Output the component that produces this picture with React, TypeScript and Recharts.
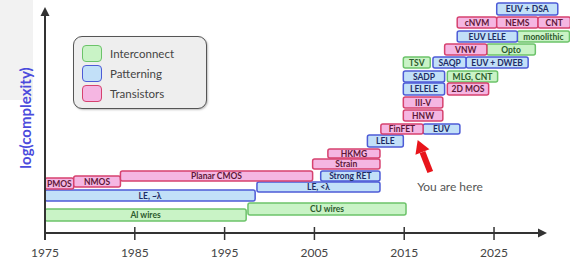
import {
  ComposedChart,
  XAxis,
  YAxis,
  ReferenceArea,
  ReferenceLine,
  ReferenceDot,
  Legend,
} from "recharts";

const yearTicks = [1975, 1985, 1995, 2005, 2015, 2025];

const categories = ["Interconnect", "Patterning", "Transistors"];

type Box = { name: string; from: number; to: number; lo: number; hi: number };

// years on x, complexity level on y
const interconnect: Box[] = [
  { name: "Al wires", from: 1975, to: 1997.4, lo: 1.2, hi: 2.4 },
  { name: "CU wires", from: 1997.6, to: 2015.2, lo: 1.8, hi: 3.0 },
  { name: "TSV", from: 2014.9, to: 2017.9, lo: 16.5, hi: 17.6 },
  { name: "MLG, CNT", from: 2019.8, to: 2025.4, lo: 15.1, hi: 16.2 },
  { name: "Opto", from: 2024.2, to: 2029.6, lo: 17.8, hi: 18.9 },
  { name: "monolithic", from: 2027.6, to: 2033.4, lo: 19.1, hi: 20.2 },
];

const patterning: Box[] = [
  { name: "LE, ~λ", from: 1975, to: 1998.4, lo: 3.2, hi: 4.3 },
  { name: "LE, <λ", from: 1998.6, to: 2012.3, lo: 4.1, hi: 5.1 },
  { name: "Strong RET", from: 2005.7, to: 2012.3, lo: 5.2, hi: 6.2 },
  { name: "LELE", from: 2010.9, to: 2014.9, lo: 8.6, hi: 9.8 },
  { name: "EUV", from: 2017.1, to: 2021.2, lo: 9.9, hi: 10.9 },
  { name: "LELELE", from: 2014.9, to: 2019.5, lo: 13.8, hi: 15.0 },
  { name: "SADP", from: 2014.9, to: 2019.5, lo: 15.1, hi: 16.2 },
  { name: "SAQP", from: 2018.2, to: 2021.9, lo: 16.5, hi: 17.6 },
  { name: "EUV + DWEB", from: 2021.9, to: 2028.8, lo: 16.5, hi: 17.6 },
  { name: "EUV LELE", from: 2020.9, to: 2027.6, lo: 19.1, hi: 20.2 },
  { name: "EUV + DSA", from: 2025.3, to: 2032.1, lo: 21.8, hi: 23.0 },
];

const transistors: Box[] = [
  { name: "PMOS", from: 1975, to: 1978.2, lo: 4.4, hi: 5.5 },
  { name: "NMOS", from: 1978.2, to: 1983.4, lo: 4.6, hi: 5.7 },
  { name: "Planar CMOS", from: 1983.4, to: 2004.8, lo: 5.2, hi: 6.2 },
  { name: "Strain", from: 2004.8, to: 2012.3, lo: 6.4, hi: 7.4 },
  { name: "HKMG", from: 2006.5, to: 2012.3, lo: 7.5, hi: 8.4 },
  { name: "FinFET", from: 2012.4, to: 2017.1, lo: 9.9, hi: 10.9 },
  { name: "HNW", from: 2014.9, to: 2019.3, lo: 11.2, hi: 12.3 },
  { name: "III-V", from: 2014.9, to: 2019.3, lo: 12.5, hi: 13.6 },
  { name: "2D MOS", from: 2019.8, to: 2024.4, lo: 13.8, hi: 15.0 },
  { name: "VNW", from: 2019.5, to: 2024.2, lo: 17.8, hi: 18.9 },
  { name: "cNVM", from: 2020.9, to: 2025.3, lo: 20.5, hi: 21.6 },
  { name: "NEMS", from: 2025.3, to: 2029.9, lo: 20.5, hi: 21.6 },
  { name: "CNT", from: 2029.9, to: 2033.5, lo: 20.5, hi: 21.6 },
];

const palette: Record<string, { fill: string; stroke: string; text: string }> = {
  Interconnect: { fill: "#c9f3c6", stroke: "#6cc36a", text: "#2c5a2c" },
  Patterning: { fill: "#c2e0f8", stroke: "#4d5bd6", text: "#1d2c66" },
  Transistors: { fill: "#f5b6e2", stroke: "#d6426f", text: "#5e1838" },
};

const font = "Lato, 'Open Sans', sans-serif";

function arrowShape(headLen: number, headW: number, width: number, color: string) {
  return (p: any) => {
    const { x1, y1, x2, y2 } = p;
    const dx = x2 - x1;
    const dy = y2 - y1;
    const len = Math.sqrt(dx * dx + dy * dy) || 1;
    const ux = dx / len;
    const uy = dy / len;
    const bx = x2 - ux * headLen;
    const by = y2 - uy * headLen;
    const nx = -uy;
    const ny = ux;
    return (
      <g>
        <line x1={x1} y1={y1} x2={bx} y2={by} stroke={color} strokeWidth={width} />
        <polygon
          points={`${x2},${y2} ${bx + (nx * headW) / 2},${by + (ny * headW) / 2} ${bx - (nx * headW) / 2},${by - (ny * headW) / 2}`}
          fill={color}
        />
      </g>
    );
  };
}

function renderBoxes(list: Box[], cat: string) {
  const c = palette[cat];
  return list.map((b) => (
    <ReferenceArea
      key={cat + b.name}
      x1={b.from}
      x2={b.to}
      y1={b.lo}
      y2={b.hi}
      fill={c.fill}
      fillOpacity={1}
      stroke={c.stroke}
      strokeWidth={1.5}
      radius={2}
      ifOverflow="visible"
      label={{
        value: b.name,
        position: "center",
        fill: c.text,
        fontSize: 8.5,
        fontWeight: 700,
        fontFamily: font,
      }}
    />
  ));
}

function LegendBox() {
  return (
    <div
      style={{
        width: 134,
        height: 73,
        border: "1.5px solid #555",
        borderRadius: 9,
        background: "#eeeeee",
        boxShadow: "1px 1px 2px rgba(0,0,0,0.25)",
        padding: "6px 0 0 8px",
        boxSizing: "border-box",
        fontFamily: font,
      }}
    >
      {categories.map((cat) => (
        <div key={cat} style={{ display: "flex", alignItems: "center", height: 20 }}>
          <div
            style={{
              width: 18,
              height: 15,
              borderRadius: 4,
              background: palette[cat].fill,
              border: `1.5px solid ${palette[cat].stroke}`,
            }}
          />
          <span style={{ marginLeft: 8, fontSize: 11.5, color: "#444" }}>{cat}</span>
        </div>
      ))}
    </div>
  );
}

export default function App() {
  return (
    <div style={{ position: "absolute", left: 0, top: 0, width: 570, height: 261, background: "#fff" }}>
      <div style={{ position: "absolute", left: 0, top: 0, width: 33, height: 100, background: "#f2f2f2" }} />
      <ComposedChart
        width={570}
        height={261}
        data={yearTicks.map((year) => ({ year }))}
        margin={{ top: 3, right: 0, bottom: 0, left: 0 }}
      >
        <XAxis
          dataKey="year"
          type="number"
          domain={[1975, 2033.46]}
          allowDataOverflow
          ticks={yearTicks}
          axisLine={false}
          tickLine={false}
          height={28}
          tickMargin={9}
          tick={{ fill: "#444", fontSize: 12, fontFamily: font }}
        />
        <YAxis
          type="number"
          domain={[0, 23]}
          allowDataOverflow
          width={45}
          tick={false}
          axisLine={false}
          tickLine={false}
          label={{
            value: "log(complexity)",
            angle: -90,
            position: "center",
            dx: 3,
            fill: "#4b4bdc",
            fontSize: 15,
            fontWeight: 700,
            fontFamily: font,
          }}
        />
        <Legend
          layout="vertical"
          align="center"
          verticalAlign="middle"
          wrapperStyle={{ left: 73, top: 36, width: 137, height: 76 }}
          content={() => <LegendBox />}
        />
        {yearTicks.map((yr) => (
          <ReferenceLine
            key={"t" + yr}
            segment={[
              { x: yr, y: 0.6 },
              { x: yr, y: -0.7 },
            ]}
            stroke="#333"
            strokeWidth={1.5}
            ifOverflow="visible"
          />
        ))}
        <ReferenceLine
          segment={[
            { x: 1975, y: 0 },
            { x: 2030.9, y: 0 },
          ]}
          ifOverflow="visible"
          shape={arrowShape(9, 9, 2, "#333")}
        />
        <ReferenceLine
          segment={[
            { x: 1975, y: -0.7 },
            { x: 1975, y: 22.6 },
          ]}
          ifOverflow="visible"
          shape={arrowShape(9, 9, 2, "#333")}
        />
        {renderBoxes(interconnect, "Interconnect")}
        {renderBoxes(patterning, "Patterning")}
        {renderBoxes(transistors, "Transistors")}
        <ReferenceLine
          segment={[
            { x: 2017.9, y: 6.1 },
            { x: 2016.5, y: 9.3 },
          ]}
          ifOverflow="visible"
          shape={arrowShape(13, 15, 6, "#e8151b")}
        />
        <ReferenceDot
          x={2020.1}
          y={4.6}
          r={0}
          fill="none"
          stroke="none"
          ifOverflow="visible"
          label={{ value: "You are here", position: "center", fill: "#555", fontSize: 12, fontFamily: font }}
        />
      </ComposedChart>
    </div>
  );
}
